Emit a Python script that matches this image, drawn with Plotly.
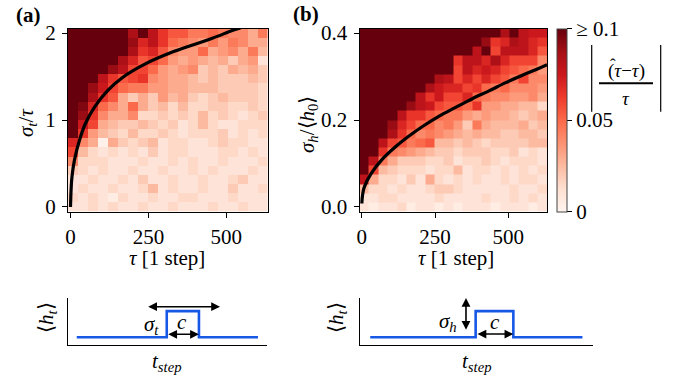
import plotly.graph_objects as go

# ---------------- data ----------------
tau_centers = [8, 40, 72, 104, 136, 168, 200, 232, 264, 296, 328, 360, 392, 424, 456, 488, 520, 552, 584, 616]
sigma_t_centers = [0.0, 0.105, 0.211, 0.316, 0.421, 0.526, 0.632, 0.737, 0.842, 0.947,
                   1.053, 1.158, 1.263, 1.368, 1.474, 1.579, 1.684, 1.789, 1.895, 2.0]
sigma_h_centers = [0.0, 0.021, 0.042, 0.063, 0.084, 0.105, 0.126, 0.147, 0.168, 0.189,
                   0.211, 0.232, 0.253, 0.274, 0.295, 0.316, 0.337, 0.358, 0.379, 0.4]

# relative error |(tau_hat - tau)/tau| in units of 0.01 (rows from sigma=0 upward), clipped at 0.1
err_a = [
    [1, 1, 1.5, 1, 1.5, 1, 1, 1.5, 1, 1, 1.5, 1, 1, 1, 1.5, 1, 1, 1.5, 1, 1],
    [1.5, 1, 1.5, 1, 0.5, 1.5, 1, 1, 1.5, 1, 1, 1.5, 1.5, 1, 1, 1, 1.5, 1, 1, 1],
    [1, 1.5, 1, 1, 1.5, 1, 1, 1.5, 2.5, 1, 1.5, 1, 1, 1.5, 1, 1, 2, 1, 1, 1.5],
    [1, 1, 1.5, 1, 1, 1.5, 1, 2, 1, 1, 1.5, 1, 1, 1.5, 1, 1, 1.5, 2, 1, 1],
    [2, 1.5, 1, 1.5, 1, 1, 1.5, 1, 1, 1.5, 1, 1, 1.5, 1, 1.5, 1, 1, 1, 1.5, 1],
    [4, 1.5, 1.5, 1.5, 1, 1, 1, 1.5, 1, 1, 1.5, 1, 1.5, 1, 1, 1.5, 1, 1, 1, 1.5],
    [6, 2.5, 1.5, 1, 1.5, 1, 1.5, 1, 2, 1, 1.5, 1.5, 1, 1, 1, 1.5, 1.5, 1, 1.5, 1],
    [7, 4, 3, 0.3, 3, 2, 1.5, 2, 2.5, 1, 1.5, 1.5, 1, 1, 1.5, 2, 1.5, 1.5, 1, 1],
    [10, 6.5, 3.5, 2.5, 2, 1.5, 2.5, 1.5, 1.5, 2, 1.5, 1, 1.5, 1.5, 1.5, 2, 1, 1.5, 1, 1.5],
    [10, 7.5, 6, 3, 2.5, 2, 2, 2.5, 2, 1.5, 2, 1, 1.5, 2.5, 1.5, 1, 1, 1.5, 1.5, 1.5],
    [10, 9, 6.5, 4, 3, 3, 4, 1.5, 1.5, 2, 1.5, 2, 1.5, 2.5, 1.5, 2, 1.5, 1, 1.5, 2],
    [10, 9.5, 7, 5, 4, 3, 5, 3, 2, 2.5, 1.5, 2.5, 1.5, 1.5, 2, 2, 1.5, 1.5, 2, 1.5],
    [10, 10, 8.5, 6.5, 5.5, 3, 2, 3, 2, 3.5, 2.5, 3, 2, 1.5, 2, 2.5, 2, 2, 2, 1.5],
    [10, 10, 9, 7.5, 6, 5, 4.5, 4.5, 3.5, 3.5, 3, 3, 2.5, 2.5, 2.5, 2, 2, 2, 2, 1.5],
    [10, 10, 10, 8, 6.5, 5.5, 6, 6.5, 4, 3.5, 3, 3, 2.5, 2, 2.5, 2, 2, 2, 2.5, 2],
    [10, 10, 10, 10, 9, 8, 6, 6, 5, 3.5, 3, 3.5, 4, 2, 2.5, 2, 3, 2.5, 3, 2],
    [10, 10, 10, 10, 10, 8.5, 7, 5.5, 6, 5, 3.5, 3, 3.5, 3, 2.5, 3, 2, 3, 3.5, 1],
    [10, 10, 10, 10, 10, 10, 8.5, 6.5, 7, 5.5, 4, 3.5, 3.5, 5, 3, 3.5, 4, 3, 4.5, 2.5],
    [10, 10, 10, 10, 10, 10, 9, 7, 8, 6.5, 5, 4.5, 4, 3.5, 4.5, 3.5, 4.5, 4, 3, 3],
    [10, 10, 10, 10, 10, 10, 8.5, 10, 8, 6.5, 5.5, 5.5, 4.5, 4.5, 5, 4.5, 4, 4, 3, 4.5],
]
err_b = [
    [1, 0.5, 1, 1, 1.5, 0.5, 1, 1, 0.5, 1, 0.5, 1, 1, 1, 0.5, 1, 1, 1, 0.5, 1],
    [1, 1, 1.5, 1.5, 1, 1, 1, 1, 1.5, 1, 1, 1, 1, 1.5, 1, 1, 1.5, 1, 1.5, 1],
    [2.5, 1.5, 1.5, 1, 1.5, 1, 1, 1.5, 2, 2, 1.5, 1, 1, 1, 1, 1, 1.5, 1, 1, 1.5],
    [8, 3, 1.5, 1.5, 1, 2, 1, 3, 1.5, 1, 1.5, 1, 1.5, 1, 1, 1.5, 1, 1.5, 1.5, 1],
    [10, 6, 2.5, 2, 1.5, 1.5, 1.5, 1, 1.5, 1.5, 2.5, 1, 1.5, 1.5, 1, 1.5, 1, 1.5, 1, 1.5],
    [10, 8, 4.5, 3, 2, 2, 2, 1.5, 1.5, 2, 1, 1.5, 1.5, 2, 1.5, 1, 1.5, 1.5, 1.5, 1],
    [10, 10, 6.5, 4.5, 4, 3.5, 3, 2.5, 2, 2, 1.5, 2, 2, 2, 1.5, 1.5, 2, 1, 1.5, 1],
    [10, 10, 8, 6, 5.5, 4.5, 5, 5.5, 2.5, 2.5, 2, 2.5, 2, 1.5, 2, 2, 2, 2, 2.5, 2.5],
    [10, 10, 10, 8.5, 6.5, 5, 4, 4.5, 4, 3.5, 3, 2.5, 3, 2.5, 2.5, 2, 2, 2.5, 2.5, 2],
    [10, 10, 10, 9, 7, 6, 5, 5, 4, 4.5, 3.5, 2, 4.5, 3, 2.5, 2.5, 2.5, 3, 2, 2.5],
    [10, 10, 10, 10, 8, 6.5, 6.5, 5.5, 5, 4.5, 4.5, 3.5, 3, 3.5, 3, 3, 2.5, 2, 2.5, 3],
    [10, 10, 10, 10, 10, 9, 8, 7.5, 6, 5.5, 5.5, 5, 6.5, 3.5, 3.5, 3, 3, 2.5, 2.5, 1.5],
    [10, 10, 10, 10, 10, 10, 8, 6.5, 7.5, 6, 6, 7, 5, 4.5, 4, 4, 3.5, 3.5, 4, 3],
    [10, 10, 10, 10, 10, 10, 10, 8.5, 7.5, 7, 7, 6, 6.5, 5, 4.5, 5, 4, 4, 4, 3.5],
    [10, 10, 10, 10, 10, 10, 10, 10, 8.5, 8, 6, 7, 6, 7, 6, 5.5, 4.5, 6, 4, 4],
    [10, 10, 10, 10, 10, 10, 10, 10, 10, 10, 6, 8, 7, 7.5, 7, 6, 5.5, 5, 4.5, 3.5],
    [10, 10, 10, 10, 10, 10, 10, 10, 10, 10, 6.5, 8, 8, 7, 8.5, 7, 6, 6, 6, 4],
    [10, 10, 10, 10, 10, 10, 10, 10, 10, 10, 10, 10, 8, 10, 6, 8, 8, 8, 7, 5.5],
    [10, 10, 10, 10, 10, 10, 10, 10, 10, 10, 10, 10, 10, 9, 6.5, 7, 8.5, 8, 7, 6.5],
    [10, 10, 10, 10, 10, 10, 10, 10, 10, 10, 10, 10, 10, 10, 10, 8.5, 10, 8, 7.5, 7.5],
]

# threshold curves
curve_a_tau = [0, 1, 2.5, 5, 13, 29, 48, 77, 119, 167, 237, 333, 455, 519, 545]
curve_a_sig = [0.0, 0.12, 0.24, 0.355, 0.544, 0.77, 0.96, 1.149, 1.338, 1.489, 1.64, 1.79, 1.94, 2.03, 2.06]
curve_b_tau = [0, 2, 8, 31, 70, 116, 161, 207, 264, 320, 377, 434, 491, 548, 605, 632]
curve_b_sig = [0.008, 0.025, 0.045, 0.076, 0.110, 0.139, 0.163, 0.185, 0.209, 0.229, 0.249, 0.267, 0.286, 0.303, 0.319, 0.327]

# schematic step signal (arbitrary units)
step_t = [0.044, 0.497, 0.497, 0.659, 0.659, 0.956]
step_h = [0.165, 0.165, 0.72, 0.72, 0.165, 0.165]

cb_tickvals = [0, 5, 10]
cb_ticktext = ["0", "0.05", "≥ 0.1"]

# ---------------- figure ----------------
W, H = 677, 381
FONT = "Liberation Serif"
FS = 21
reds = ['rgb(255,245,240)', 'rgb(254,224,210)', 'rgb(252,187,161)', 'rgb(252,146,114)',
        'rgb(251,106,74)', 'rgb(239,59,44)', 'rgb(203,24,29)', 'rgb(165,15,21)', 'rgb(103,0,13)']


def px(x):
    return x / W


def py(y):
    return 1 - y / H


fig = go.Figure()

top, bottom = 28.5, 211.5

fig.add_trace(go.Heatmap(x=tau_centers, y=sigma_t_centers, z=err_a, zmin=0, zmax=10,
                         colorscale=reds, showscale=False, xaxis="x", yaxis="y"))
fig.add_trace(go.Heatmap(x=tau_centers, y=sigma_h_centers, z=err_b, zmin=0, zmax=10,
                         colorscale=reds, xaxis="x2", yaxis="y2",
                         colorbar=dict(x=px(557), xanchor="left", y=py(bottom), yanchor="bottom",
                                       len=(bottom - top) / H, lenmode="fraction", thickness=10,
                                       outlinewidth=1, outlinecolor="#444", xpad=0, ypad=0,
                                       tickvals=cb_tickvals, ticktext=cb_ticktext,
                                       ticks="outside", ticklen=5, tickcolor="black",
                                       tickfont=dict(family=FONT, size=FS, color="black"))))
fig.add_trace(go.Scatter(x=curve_a_tau, y=curve_a_sig, mode="lines", line=dict(color="black", width=3.2, shape="spline"),
                         xaxis="x", yaxis="y", showlegend=False))
fig.add_trace(go.Scatter(x=curve_b_tau, y=curve_b_sig, mode="lines", line=dict(color="black", width=3.2, shape="spline"),
                         xaxis="x2", yaxis="y2", showlegend=False))
fig.add_trace(go.Scatter(x=step_t, y=step_h, mode="lines", line=dict(color="#1657e6", width=2.6),
                         xaxis="x3", yaxis="y3", showlegend=False))
fig.add_trace(go.Scatter(x=step_t, y=step_h, mode="lines", line=dict(color="#1657e6", width=2.6),
                         xaxis="x4", yaxis="y4", showlegend=False))

tickfont = dict(family=FONT, size=FS, color="black")
common = dict(showline=True, mirror=True, linecolor="black", linewidth=1, ticks="outside", ticklen=5,
              tickcolor="black", showgrid=False, zeroline=False, tickfont=tickfont)
diag = dict(range=[0, 1], showline=True, linecolor="black", linewidth=1, showticklabels=False,
            ticks="", showgrid=False, zeroline=False)

layout = dict(
    width=W, height=H, margin=dict(l=0, r=0, t=0, b=0, autoexpand=False),
    paper_bgcolor="white", plot_bgcolor="white", showlegend=False,
    xaxis=dict(domain=[px(68), px(267.5)], range=[-8, 632], tickvals=[0, 250, 500], anchor="y",
               ticklabelstandoff=1, **common),
    yaxis=dict(domain=[py(bottom), py(top)], range=[-0.0526, 2.0526], tickvals=[0, 1, 2], anchor="x",
               ticklabelstandoff=2, **common),
    xaxis2=dict(domain=[px(359.5), px(547)], range=[-8, 632], tickvals=[0, 250, 500], anchor="y2",
                ticklabelstandoff=1, **common),
    yaxis2=dict(domain=[py(bottom), py(top)], range=[-0.0105, 0.4105], tickvals=[0, 0.2, 0.4],
                ticktext=["0.0", "0.2", "0.4"], anchor="x2", ticklabelstandoff=2, **common),
    xaxis3=dict(domain=[px(68), px(266.7)], anchor="y3", **diag),
    yaxis3=dict(domain=[py(345), py(298)], anchor="x3", **diag),
    xaxis4=dict(domain=[px(360), px(592.7)], anchor="y4", **diag),
    yaxis4=dict(domain=[py(345), py(298)], anchor="x4", **diag),
)
fig.update_layout(**layout)

ann = []


def text(x, y, s, size=FS, angle=0, xanchor="center", yanchor="middle", ref="paper"):
    d = dict(text=s, showarrow=False, textangle=angle, xanchor=xanchor, yanchor=yanchor,
             font=dict(family=FONT, size=size, color="black"))
    if ref == "paper":
        d.update(xref="paper", yref="paper", x=px(x), y=py(y))
    else:
        d.update(xref="x" + ref, yref="y" + ref, x=x, y=y)
    ann.append(d)


text(14, 15, "<b>(a)</b>", size=21, xanchor="left")
text(291, 14, "<b>(b)</b>", size=21, xanchor="left")
text(27, 123, "<i>σ</i><sub><i>t</i></sub>/<i>τ</i>", angle=-90)
text(308, 125, "<i>σ</i><sub><i>h</i></sub>/⟨<i>h</i><sub>0</sub>⟩", angle=-90)
text(167, 258, "<i>τ</i> [1 step]", size=21)
text(456, 258, "<i>τ</i> [1 step]", size=21)
text(47, 318, "⟨<i>h</i><sub><i>t</i></sub>⟩", angle=-90)
text(337, 318, "⟨<i>h</i><sub><i>t</i></sub>⟩", angle=-90)
text(166.7, 362, "<i>t</i><sub><i>step</i></sub>")
text(476.7, 362, "<i>t</i><sub><i>step</i></sub>")
# colorbar label |(tau_hat - tau)/tau|
text(626, 71, "(<i>τ</i>−<i>τ</i>)", size=19)
text(613, 64, "ˆ", size=17)
text(626, 98, "<i>τ</i>", size=19)
# diagram labels
text(0.42, 0.43, "<i>σ</i><sub><i>t</i></sub>", ref="3")
text(0.572, 0.50, "<i>c</i>", ref="3")
text(0.379, 0.48, "<i>σ</i><sub><i>h</i></sub>", ref="4")
text(0.58, 0.50, "<i>c</i>", ref="4")


def arrow(x0, y0, x1, y1, ref):
    ann.append(dict(xref="x" + ref, yref="y" + ref, axref="x" + ref, ayref="y" + ref,
                    x=x1, y=y1, ax=x0, ay=y0, text="", showarrow=True,
                    arrowhead=2, startarrowhead=2, arrowside="end+start",
                    arrowsize=1.1, startarrowsize=1.1, arrowwidth=1.6, arrowcolor="black"))


arrow(0.396, 0.815, 0.765, 0.815, "3")
arrow(0.497, 0.228, 0.659, 0.228, "3")
arrow(0.4555, 0.29, 0.4555, 1.0, "4")
arrow(0.4985, 0.233, 0.659, 0.233, "4")

fig.update_layout(annotations=ann)

shapes = [
    dict(type="line", xref="paper", yref="paper", x0=px(599), x1=px(653), y0=py(83.3), y1=py(83.3),
         line=dict(color="black", width=2)),
    dict(type="line", xref="paper", yref="paper", x0=px(591.7), x1=px(591.7), y0=py(45), y1=py(111.7),
         line=dict(color="black", width=1.2)),
    dict(type="line", xref="paper", yref="paper", x0=px(660.7), x1=px(660.7), y0=py(45), y1=py(111.7),
         line=dict(color="black", width=1.2)),
]
fig.update_layout(shapes=shapes)

fig.write_html("out.html", config={"displayModeBar": False},
               post_script="document.body.style.margin='0px';document.body.style.overflow='hidden';")
